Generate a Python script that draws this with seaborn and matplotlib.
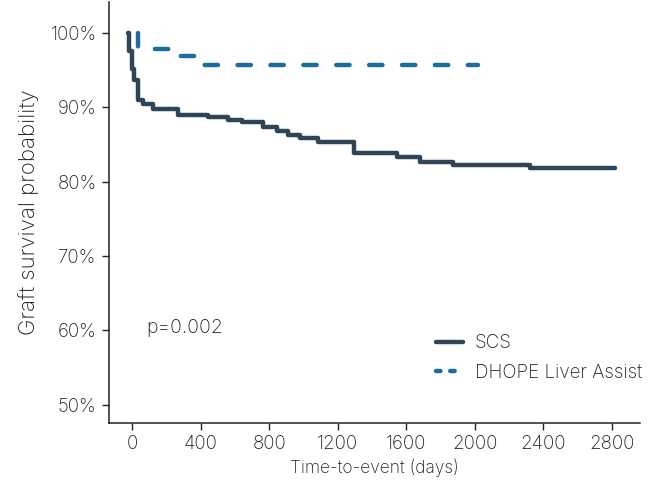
import seaborn as sns
import matplotlib.pyplot as plt
import pandas as pd
from matplotlib.ticker import FuncFormatter

# Kaplan-Meier step points
scs_days = [-25, -22, -4, 12, 32, 62, 121, 267, 442, 559, 641, 763, 845, 910,
            980, 1085, 1295, 1546, 1680, 1873, 2323, 2820]
scs_surv = [100, 97.6, 95.2, 93.6, 91.0, 90.5, 89.8, 89.0, 88.7, 88.3, 88.0,
            87.3, 86.8, 86.3, 85.8, 85.3, 83.8, 83.3, 82.6, 82.3, 81.8, 81.8]

dhope_days = [32, 33, 260, 378, 2020]
dhope_surv = [100, 97.8, 96.9, 95.7, 95.7]

groups = ["SCS", "DHOPE Liver Assist"]
colors = {"SCS": "#2f4556", "DHOPE Liver Assist": "#1c6d9c"}
x_ticks = [0, 400, 800, 1200, 1600, 2000, 2400, 2800]
y_ticks = [50, 60, 70, 80, 90, 100]
p_text = "p=0.002"

df = pd.concat([
    pd.DataFrame({"days": scs_days, "surv": scs_surv, "group": "SCS"}),
    pd.DataFrame({"days": dhope_days, "surv": dhope_surv, "group": "DHOPE Liver Assist"}),
])

sns.set_style("ticks")
plt.rcParams["font.family"] = ["Inter", "DejaVu Sans"]
plt.rcParams["font.weight"] = "light"
plt.rcParams["axes.labelweight"] = "light"
plt.rcParams["text.color"] = "#222222"

fig = plt.figure(figsize=(6.57, 4.84), dpi=100)
ax = fig.add_axes([0.166, 0.127, 0.808, 0.868])

sns.lineplot(data=df[df.group == "SCS"], x="days", y="surv", color=colors["SCS"],
             estimator=None, sort=False, drawstyle="steps-post", linewidth=3.2,
             solid_capstyle="round", solid_joinstyle="round", label="SCS", ax=ax)
sns.lineplot(data=df[df.group == "DHOPE Liver Assist"], x="days", y="surv",
             color=colors["DHOPE Liver Assist"], estimator=None, sort=False,
             drawstyle="steps-post", linewidth=3.2, dashes=False, ax=ax,
             label="DHOPE Liver Assist")
ax.lines[1].set_dashes((3.0, 4.4))
ax.lines[1].set_dash_capstyle("round")

ax.set_xlim(-136, 2965)
ax.set_ylim(47.6, 104.1)
ax.set_xticks(x_ticks)
ax.set_yticks(y_ticks)
ax.yaxis.set_major_formatter(FuncFormatter(lambda v, _: f"{v:.0f}%"))
ax.tick_params(labelsize=13.5, length=5, width=1, colors="#222222", pad=4)
ax.set_xlabel("Time-to-event (days)", fontsize=12.5, color="#222222")
ax.set_ylabel("Graft survival probability", fontsize=16, labelpad=8, color="#222222")
sns.despine(ax=ax)
for s in ["left", "bottom"]:
    ax.spines[s].set_linewidth(1.1)
    ax.spines[s].set_color("#222222")

ax.text(80, 60.3, p_text, fontsize=14, va="center")

leg = ax.legend(loc="upper left", bbox_to_anchor=(0.585, 0.25), frameon=False,
                fontsize=13.5, handlelength=1.4, labelspacing=0.6, handletextpad=0.65)
leg.get_lines()[1].set_dashes((1.0, 2.2))
leg.get_lines()[1].set_dash_capstyle("round")
leg.get_lines()[0].set_solid_capstyle("round")

fig.savefig("out.png", dpi=100)
